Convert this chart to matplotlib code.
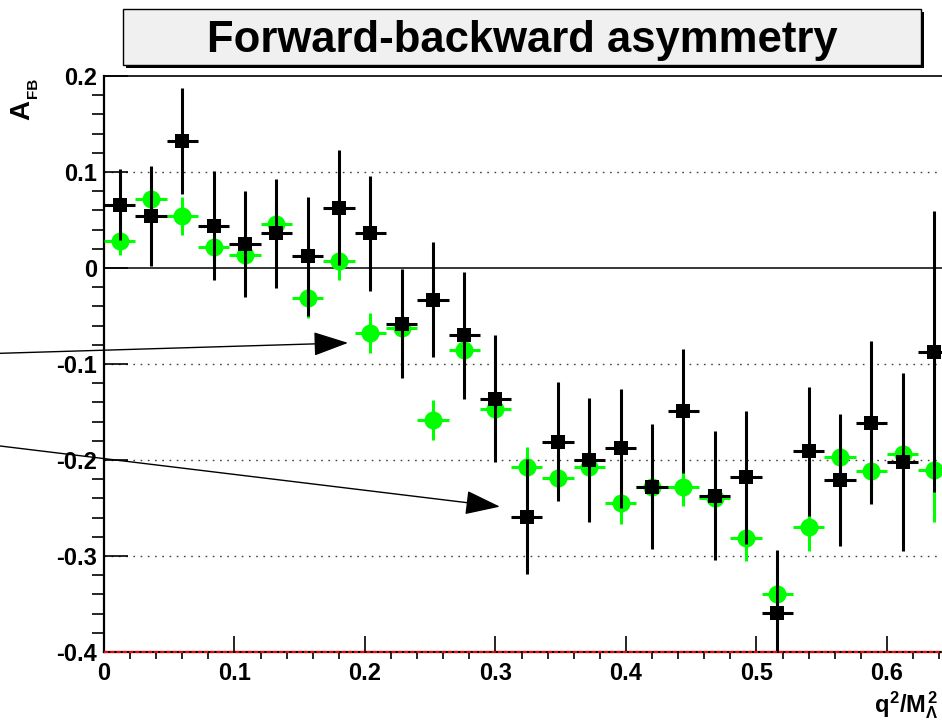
import matplotlib.pyplot as plt
from matplotlib.patches import Rectangle
from matplotlib.ticker import FixedLocator, MultipleLocator

plt.rcParams['font.family'] = ['Liberation Sans', 'DejaVu Sans']
plt.rcParams['font.weight'] = 'bold'
plt.rcParams['mathtext.fontset'] = 'custom'
plt.rcParams['mathtext.rm'] = 'Liberation Sans:bold'
plt.rcParams['mathtext.it'] = 'Liberation Sans:bold'
plt.rcParams['mathtext.bf'] = 'Liberation Sans:bold'

# bin centres in q^2/M^2 and half bin width
q2 = [0.012, 0.036, 0.060, 0.084, 0.108, 0.132, 0.156, 0.180, 0.204,
      0.228, 0.252, 0.276, 0.300, 0.324, 0.348, 0.372, 0.396, 0.420,
      0.444, 0.468, 0.492, 0.516, 0.540, 0.564, 0.588, 0.612, 0.636]
half_bin = 0.012

# black squares
afb_black = [0.066, 0.054, 0.132, 0.044, 0.025, 0.036, 0.012, 0.063, 0.036,
             -0.058, -0.033, -0.070, -0.136, -0.259, -0.181, -0.200, -0.188, -0.228,
             -0.149, -0.237, -0.218, -0.359, -0.191, -0.221, -0.161, -0.202, -0.087]
err_black = [0.037, 0.052, 0.055, 0.057, 0.055, 0.057, 0.062, 0.060, 0.060,
             0.057, 0.060, 0.066, 0.066, 0.060, 0.062, 0.065, 0.062, 0.065,
             0.065, 0.067, 0.069, 0.065, 0.067, 0.069, 0.085, 0.093, 0.146]

# green circles
afb_green = [0.028, 0.072, 0.054, 0.022, 0.014, 0.046, -0.031, 0.007, -0.068,
             -0.062, -0.158, -0.085, -0.147, -0.207, -0.219, -0.207, -0.245, -0.228,
             -0.228, -0.240, -0.281, -0.340, -0.270, -0.197, -0.211, -0.194, -0.210]
err_green = [0.014, 0.016, 0.020, 0.020, 0.019, 0.021, 0.021, 0.020, 0.021,
             0.020, 0.021, 0.016, 0.021, 0.021, 0.020, 0.020, 0.022, 0.023,
             0.020, 0.020, 0.024, 0.023, 0.025, 0.028, 0.030, 0.036, 0.055]

xticks = [0.0, 0.1, 0.2, 0.3, 0.4, 0.5, 0.6]
xtick_labels = ['0', '0.1', '0.2', '0.3', '0.4', '0.5', '0.6']
yticks = [-0.4, -0.3, -0.2, -0.1, 0.0, 0.1, 0.2]
ytick_labels = ['-0.4', '-0.3', '-0.2', '-0.1', '0', '0.1', '0.2']
grid_levels = [0.1, -0.1, -0.2, -0.3]

fig = plt.figure(figsize=(9.42, 7.24), dpi=100)
# pad runs off the right side of the canvas
ax = fig.add_axes([104/942, 72/724, 0.7*1305/942, 576/724])

for y in grid_levels:
    ax.axhline(y, color='#444444', lw=1.0, ls=(0, (1.2, 4)), zorder=1)
ax.axhline(0.0, color='black', lw=1.1, zorder=1)
ax.axhline(-0.4, color='red', lw=1.5, ls=(0, (2, 1)), zorder=6, clip_on=False)

ax.errorbar(q2, afb_green, xerr=half_bin, yerr=err_green, fmt='o',
            color='#00ff00', ms=13, mew=0, elinewidth=2.2, capsize=0, zorder=3)
ax.errorbar(q2, afb_black, xerr=half_bin, yerr=err_black, fmt='s',
            color='black', ms=9.5, mew=0, elinewidth=2.2, capsize=0, zorder=4)

ax.set_xlim(0, 0.7)
ax.set_ylim(-0.4, 0.2)
ax.xaxis.set_major_locator(FixedLocator(xticks))
ax.set_xticklabels(xtick_labels)
ax.yaxis.set_major_locator(FixedLocator(yticks))
ax.set_yticklabels(ytick_labels)
ax.xaxis.set_minor_locator(MultipleLocator(0.02))
ax.yaxis.set_minor_locator(MultipleLocator(0.02))
ax.tick_params(direction='in', top=False, right=False, labelsize=17, width=1.2)
ax.tick_params(axis='y', which='major', length=17, pad=5)
ax.tick_params(axis='y', which='minor', length=8.6, width=1.2)
ax.tick_params(axis='x', which='major', length=11.5, pad=7)
ax.tick_params(axis='x', which='minor', length=5, width=1.2)
for s in ['left', 'bottom']:
    ax.spines[s].set_linewidth(1.6)
ax.spines['top'].set_linewidth(1.2)
ax.spines['right'].set_visible(False)

# arrows coming in from the left edge
ax.annotate('', xy=(0.187, -0.078), xytext=(0.0, 0.512), textcoords='figure fraction',
            arrowprops=dict(arrowstyle='-|>,head_length=1.1,head_width=0.38',
                            color='black', lw=1, shrinkA=0, shrinkB=0, mutation_scale=20),
            annotation_clip=False)
ax.annotate('', xy=(0.3034, -0.2486), xytext=(0.0, 0.384), textcoords='figure fraction',
            arrowprops=dict(arrowstyle='-|>,head_length=1.1,head_width=0.38',
                            color='black', lw=1, shrinkA=0, shrinkB=0, mutation_scale=20),
            annotation_clip=False)

# title box with drop shadow
bx, by, bw, bh = 123/942, 1 - 65/724, 798/942, 56/724
fig.patches.append(Rectangle((bx + 3/942, by - 3/724), bw, bh, transform=fig.transFigure,
                             facecolor='black', edgecolor='black', lw=0))
fig.patches.append(Rectangle((bx, by), bw, bh, transform=fig.transFigure,
                             facecolor='#f0f0f0', edgecolor='black', lw=1))
fig.text(522/942, 1 - 52/724, 'Forward-backward asymmetry', fontsize=31.4,
         fontweight='bold', ha='center', va='baseline')

# axis titles
fig.text(22.5/942, 1 - 110/724, 'A', fontsize=20, fontweight='bold',
         rotation=90, ha='center', va='center')
fig.text(33/942, 1 - 88/724, 'FB', fontsize=11, fontweight='bold',
         rotation=90, ha='center', va='center')
fig.text(0.996, 0.004, r'$q^2/M^2_\Lambda$', fontsize=17, ha='right', va='bottom')

plt.savefig('out.png')
plt.close(fig)
